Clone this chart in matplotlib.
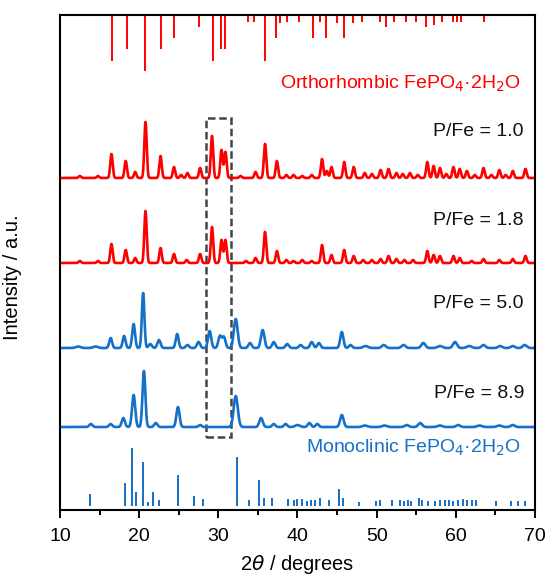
import numpy as np
import matplotlib.pyplot as plt

plt.rcParams['font.family'] = ['Liberation Sans', 'DejaVu Sans']

RED = '#ff0000'
BLUE = '#1470c8'

# -------------------------------
# Reference sticks (2theta, relative intensity in px)
# -------------------------------
ortho_pos = [16.6, 18.4, 20.7, 22.8, 24.4, 27.6, 29.3, 30.3, 30.8, 33.8, 34.5, 35.9,
             37.3, 37.8, 38.7, 40.2, 42.0, 42.9, 43.6, 45.0, 45.9, 47.0, 48.1, 50.4,
             51.2, 52.2, 53.7, 55.0, 56.2, 57.2, 58.2, 59.6, 60.1, 60.7, 63.5]
ortho_int = [46, 34, 56, 34, 23, 12, 46, 34, 34, 7, 7, 46,
             23, 8, 7, 7, 23, 7, 23, 8, 23, 8, 7, 7,
             12, 7, 7, 7, 12, 10, 7, 7, 7, 7, 7]

mono_pos = [13.8, 18.2, 19.05, 19.6, 20.5, 21.1, 21.7, 22.5, 24.9, 26.9, 28.1, 32.4,
            33.9, 35.1, 35.8, 36.8, 38.8, 39.6, 40.0, 40.6, 41.2, 41.7, 42.2, 42.8,
            44.0, 45.3, 45.7, 47.8, 49.9, 50.4, 52.0, 52.9, 53.4, 54.0, 54.4, 55.3,
            55.7, 56.5, 57.4, 58.0, 58.6, 59.2, 59.7, 60.3, 60.9, 61.4, 62.1, 62.6,
            65.1, 67.0, 67.9, 68.7]
mono_int = [12, 23, 58, 14, 44, 4, 14, 6, 31, 10, 7, 49,
            6, 26, 8, 8, 7, 6, 7, 7, 5, 6, 6, 8,
            6, 17, 8, 4, 5, 6, 6, 6, 5, 6, 5, 8,
            6, 5, 5, 6, 6, 6, 5, 6, 7, 6, 6, 6,
            5, 5, 5, 5]

# -------------------------------
# Measured patterns as peak lists (2theta, height)
# -------------------------------
pfe10_pos = [12.5, 14.8, 16.5, 18.3, 19.5, 20.8, 22.7, 24.4, 25.3, 26.1, 27.7, 29.2,
             30.4, 30.9, 32.8, 34.7, 35.9, 37.4, 38.6, 39.5, 40.6, 41.8, 43.1, 43.7,
             44.3, 45.9, 47.1, 48.5, 49.4, 50.5, 51.5, 52.5, 53.3, 54.2, 55.2, 56.4,
             57.2, 58.0, 58.8, 59.7, 60.5, 61.4, 62.4, 63.5, 64.5, 65.5, 66.3, 67.2,
             68.8]
pfe10_int = [2, 2, 24, 17, 6, 56, 22, 11, 3, 5, 10, 42,
             28, 26, 2, 6, 34, 17, 3, 3, 2, 3, 19, 7,
             11, 16, 11, 5, 4, 8, 9, 5, 4, 5, 3, 16,
             12, 10, 4, 11, 9, 7, 3, 10, 3, 8, 3, 7,
             9]

pfe18_pos = [12.5, 14.8, 16.5, 18.3, 19.5, 20.8, 22.7, 24.4, 26.0, 27.7, 29.2, 30.4,
             30.9, 33.5, 34.7, 35.9, 37.4, 38.6, 39.5, 40.6, 41.8, 43.1, 44.3, 45.9,
             47.1, 48.3, 49.4, 50.5, 51.5, 52.5, 53.5, 54.6, 56.4, 57.2, 58.0, 59.7,
             60.5, 62.0, 63.5, 65.5, 67.2, 68.8]
pfe18_int = [2, 2, 19, 13, 5, 52, 15, 9, 3, 9, 36, 23,
             23, 2, 5, 31, 12, 3, 2, 3, 2, 18, 8, 13,
             7, 3, 3, 4, 7, 4, 3, 3, 12, 8, 7, 7,
             5, 2, 4, 3, 4, 7]

pfe50_pos = [12.3, 14.5, 16.4, 18.1, 19.3, 20.5, 21.4, 22.5, 24.8, 26.1, 27.5, 28.9,
             30.2, 30.7, 32.2, 34.0, 35.6, 37.0, 38.7, 40.4, 41.8, 42.7, 45.6, 46.7,
             48.6, 50.9, 53.4, 55.9, 58.0, 59.9, 61.7, 63.5, 65.6, 67.2, 68.7]
pfe50_int = [1.5, 1.5, 10, 12, 24, 55, 4, 8, 14, 3, 6, 17,
             12, 11, 29, 5, 18, 6, 4, 3, 6, 5, 16, 3,
             2, 3, 3, 5, 2, 6, 2, 3, 2, 2, 3]
pfe50_wid = [0.3, 0.3, 0.18, 0.18, 0.18, 0.16, 0.2, 0.2, 0.18, 0.2, 0.2, 0.2,
             0.2, 0.2, 0.24, 0.2, 0.22, 0.2, 0.2, 0.2, 0.2, 0.2, 0.2, 0.2,
             0.3, 0.25, 0.25, 0.25, 0.3, 0.25, 0.3, 0.25, 0.25, 0.25, 0.25]

pfe89_pos = [13.9, 16.4, 18.0, 19.3, 20.6, 22.1, 24.9, 27.7, 32.2, 35.4, 37.0, 38.5,
             40.0, 41.5, 42.5, 45.6, 48.5, 51.0, 53.8, 55.5, 58.0, 60.3, 63.0, 65.5,
             67.2]
pfe89_int = [3, 3, 9, 32, 56, 4, 20, 2, 31, 9, 3, 3,
             2, 4, 3, 12, 1.5, 1.5, 2, 4, 1.5, 2, 1.5, 1.5, 2]
pfe89_wid = [0.2, 0.2, 0.2, 0.2, 0.18, 0.2, 0.2, 0.2, 0.26, 0.22, 0.2, 0.2,
             0.3, 0.2, 0.2, 0.22, 0.3, 0.3, 0.25, 0.25, 0.3, 0.25, 0.3, 0.3, 0.25]

labels = ['P/Fe = 1.0', 'P/Fe = 1.8', 'P/Fe = 5.0', 'P/Fe = 8.9']
baselines = [332, 247, 162, 83]
label_y = [378, 289, 206, 117]


def pattern(tt, pos, inten, base, width):
    width = np.broadcast_to(width, len(pos))
    y = np.full_like(tt, float(base))
    for p, h, w in zip(pos, inten, width):
        y += h * np.exp(-0.5 * ((tt - p) / w) ** 2)
    return y


tt = np.linspace(10, 70, 4000)

fig = plt.figure(figsize=(5.47, 5.75), dpi=100)
ax = fig.add_axes([0.1097, 0.113, 0.8683, 0.861])

# reference sticks
ax.vlines(ortho_pos, [495 - v for v in ortho_int], 495, color=RED, lw=1.4)
ax.vlines(mono_pos, 4, [4 + v for v in mono_int], color=BLUE, lw=1.4)

traces = [
    (pfe10_pos, pfe10_int, 0.15, RED),
    (pfe18_pos, pfe18_int, 0.15, RED),
    (pfe50_pos, pfe50_int, pfe50_wid, BLUE),
    (pfe89_pos, pfe89_int, pfe89_wid, BLUE),
]
for (pos, inten, wid, col), base, lab, ly in zip(traces, baselines, labels, label_y):
    ax.plot(tt, pattern(tt, pos, inten, base, wid), color=col, lw=1.9)
    ax.text(68.6, ly, lab, ha='right', va='center', fontsize=14, color='#111111')

ax.text(68.2, 426, r'Orthorhombic FePO$_4$·2H$_2$O', ha='right', va='center',
        fontsize=14, color=RED)
ax.text(68.2, 62, r'Monoclinic FePO$_4$·2H$_2$O', ha='right', va='center',
        fontsize=14, color=BLUE)

# highlighted region
ax.add_patch(plt.Rectangle((28.5, 73), 3.1, 319, fill=False, ls=(0, (3, 1.5)),
                           lw=1.8, ec='#444444'))

ax.set_xlim(10, 70)
ax.set_ylim(0, 495)
ax.set_xticks(range(10, 71, 10))
ax.set_xticks(range(15, 70, 10), minor=True)
ax.set_yticks([])
ax.tick_params(axis='x', which='major', direction='out', length=6, width=1.4,
               labelsize=14, pad=7)
ax.tick_params(axis='x', which='minor', direction='out', length=3.5, width=1.4)
for s in ax.spines.values():
    s.set_linewidth(1.5)

ax.set_xlabel(r'2$\theta$ / degrees', fontsize=14.5, labelpad=6)
ax.set_ylabel('Intensity / a.u.', fontsize=14.5)
ax.yaxis.set_label_coords(-0.081, 0.47)

plt.savefig('out.png', dpi=100)
